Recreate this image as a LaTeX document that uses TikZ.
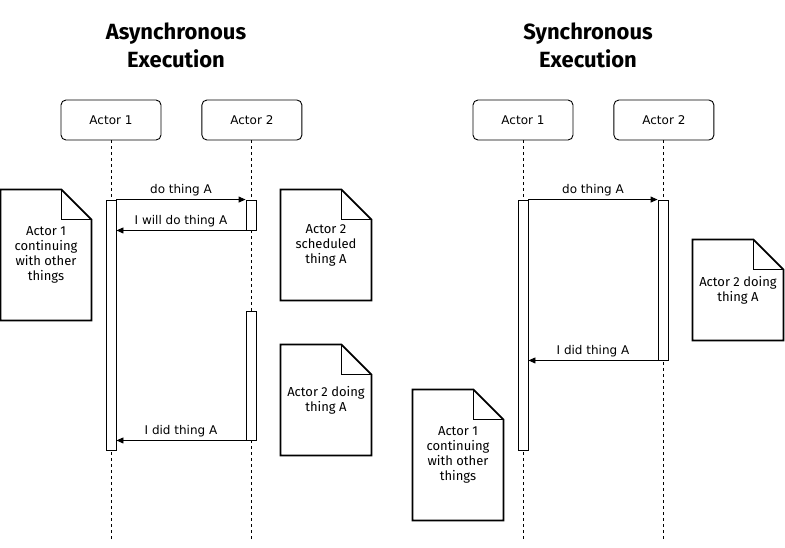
\documentclass[tikz,border=0pt]{standalone}
\usepackage{fontspec}
\setmainfont{DejaVu Sans}
\newfontfamily\comicfont{Fira Sans}
\usetikzlibrary{positioning}
\usetikzlibrary{arrows.meta}

\newcommand{\drawnote}[1]{%
	\draw [line width=1.8pt] (#1.north west) -- ([xshift=-30pt]#1.north east) -- ([yshift=-30pt]#1.north east) -- (#1.south east) -- (#1.south west) -- cycle;
	\draw [line width=1.8pt] ([xshift=-30pt]#1.north east) |- ([yshift=-30pt]#1.north east);
}

\begin{document}
\begin{tikzpicture}[x=1pt, y=-1pt, line width=0.9pt]
		\tikzstyle{actor} = [rectangle, rounded corners=5pt, minimum width=100pt, minimum height=40pt, draw=black, font=\fontsize{12}{14}\selectfont]
		\tikzstyle{act} = [rectangle, minimum width=10pt, inner sep=0pt, draw=black, fill=white]
		\tikzstyle{note} = [rectangle, minimum width=90pt, inner sep=0pt, align=center, font=\comicfont\fontsize{13}{15}\selectfont]
		\tikzstyle{title} = [align=center, font=\comicfont\bfseries\fontsize{22}{28}\selectfont]
		\tikzstyle{msg} = [above, midway, font=\fontsize{12}{14}\selectfont]
		\tikzstyle{arrow} = [-{Triangle[length=7pt,width=6pt]}]

		\useasboundingbox (0,0) rectangle (785,547);

		\node (asyncTitle) [title] at (176,45) {Asynchronous\\Execution};
		\node (syncTitle) [title] at (588,45) {Synchronous\\Execution};

		\node (asyncActorA) [actor] at (111,120) {Actor 1};
		\node (asyncActorB) [actor, right=40pt of asyncActorA] {Actor 2};
		\node (syncActorA) [actor] at (523,120) {Actor 1};
		\node (syncActorB) [actor, right=40pt of syncActorA] {Actor 2};

		\coordinate (asyncEndA) at (asyncActorA |- 0,540);
		\coordinate (asyncEndB) at (asyncActorB |- 0,540);
		\coordinate (syncEndA) at (syncActorA |- 0,540);
		\coordinate (syncEndB) at (syncActorB |- 0,540);

		\draw [dashed] (asyncActorA) -- (asyncEndA);
		\draw [dashed] (asyncActorB) -- (asyncEndB);
		\draw [dashed] (syncActorA) -- (syncEndA);
		\draw [dashed] (syncActorB) -- (syncEndB);

		\node (asyncActA) [act, minimum height=250pt] at (111,325) {};
		\node (asyncActB1) [act, minimum height=30pt] at (251,215) {};
		\node (asyncActB2) [act, minimum height=129pt] at (251,375.5) {};
		\node (syncActA) [act, minimum height=250pt] at (523,325) {};
		\node (syncActB) [act, minimum height=160pt] at (663,280) {};

		\draw [arrow] (asyncActA.north east) -- node [msg] {do thing A} (asyncActB1.north west);
		\draw [arrow] (asyncActB1.south west) -- node [msg] {I will do thing A} (asyncActA.east |- asyncActB1.south);
		\draw [arrow] (asyncActB2.south west) -- node [msg] {I did thing A} (asyncActA.east |- asyncActB2.south);
		\draw [arrow] (syncActA.north east) -- node [msg] {do thing A} (syncActB.north west);
		\draw [arrow] (syncActB.south west) -- node [msg] {I did thing A} (syncActA.east |- syncActB.south);

		\node (asyncNoteA) [note, minimum height=130pt] at (46,255) {Actor 1\\continuing\\with other\\things};
		\node (asyncNoteB) [note, minimum height=110pt] at (326,245) {Actor 2\\scheduled\\thing A};
		\node (asyncNoteC) [note, minimum height=110pt] at (326,400) {Actor 2 doing\\thing A};
		\node (syncNoteA) [note, minimum height=100pt] at (738,290) {Actor 2 doing\\thing A};
		\node (syncNoteB) [note, minimum height=130pt] at (458,455) {Actor 1\\continuing\\with other\\things};

		\foreach \n in {asyncNoteA, asyncNoteB, asyncNoteC, syncNoteA, syncNoteB}
			\drawnote{\n};
	\end{tikzpicture}
\end{document}
